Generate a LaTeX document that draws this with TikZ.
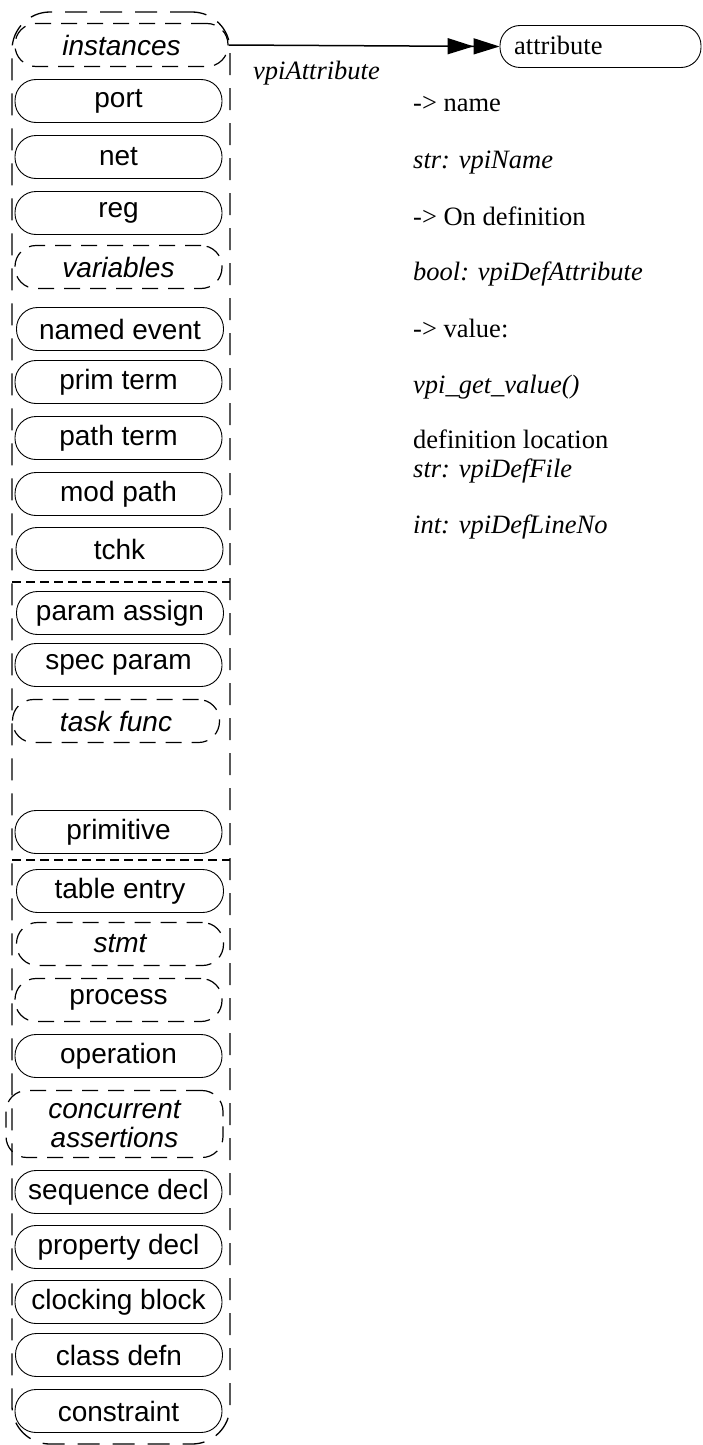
\documentclass[tikz,border=0pt]{standalone}
\usepackage{fontspec}
\setmainfont{Liberation Serif}
\newfontfamily\sansf{Liberation Sans}
\usetikzlibrary{arrows.meta}
\tikzset{
  box/.style={draw, line width=0.9pt, rounded corners=21pt, minimum width=207pt,
    minimum height=43pt, inner sep=0pt, font=\sansf\fontsize{28}{30}\selectfont},
  dbox/.style={box, line width=1.2pt, dash pattern=on 16pt off 10pt,
    font=\sansf\itshape\fontsize{28}{30}\selectfont},
  pbox/.style={box, line width=1.2pt, dash pattern=on 16pt off 10pt},
  group/.style={draw, line width=1.3pt, dash pattern=on 22pt off 13pt, rounded corners=38pt,
    minimum width=218pt, minimum height=1432pt, inner sep=0pt},
  sep/.style={line width=1.2pt, dash pattern=on 9pt off 5pt},
  txt/.style={anchor=base west, inner sep=0pt, font=\fontsize{26.5}{28}\selectfont},
  itxt/.style={txt, font=\itshape\fontsize{26.5}{28}\selectfont},
  conn/.style={line width=1.5pt, -{Triangle[length=26pt,width=16pt]Triangle[length=26pt,width=16pt]}},
}
\begin{document}
\begin{tikzpicture}[x=1pt,y=-1pt]
\useasboundingbox (0,0) rectangle (702,1445);
\node[group] (grp) at (121,728) {};
\coordinate (s1l) at (12,582); \coordinate (s1r) at (230,582);
\coordinate (s2l) at (12,860); \coordinate (s2r) at (230,860);
\draw[sep] (s1l) -- (s1r);
\draw[sep] (s2l) -- (s2r);

\node[dbox, minimum width=213pt] (instances) at (121.5,45) {instances};
\node[box] (port) at (118.5,101) {port};
\node[box] (net) at (118.5,157) {net};
\node[box] (reg) at (118.5,213) {reg};
\node[dbox] (variables) at (118.5,267) {variables};
\node[box] (namedevent) at (120,329) {named event};
\node[box] (primterm) at (118.5,382) {prim term};
\node[box] (pathterm) at (118.5,438) {path term};
\node[box] (modpath) at (118.5,494) {mod path};
\node[box] (tchk) at (119.5,549) {tchk};
\node[box] (paramassign) at (120,613) {param assign};
\node[box] (specparam) at (118.5,665) {spec param};
\node[dbox] (taskfunc) at (116,721) {task func};
\node[box] (primitive) at (118.5,832) {primitive};
\node[box] (tableentry) at (120,891) {table entry};
\node[dbox] (stmt) at (120,944) {stmt};
\node[pbox] (process) at (118.5,1000) {process};
\node[box] (operation) at (118.5,1056) {operation};
\node[dbox, minimum width=217pt, minimum height=67pt, align=center,
  font=\sansf\itshape\fontsize{28}{29}\selectfont] (concurrent) at (114.5,1124) {concurrent\\assertions};
\node[box] (sequencedecl) at (118.5,1192) {sequence decl};
\node[box] (propertydecl) at (118.5,1247) {property decl};
\node[box] (clockingblock) at (118.5,1302) {clocking block};
\node[box] (classdefn) at (119,1355) {class defn};
\node[box] (constraint) at (118.5,1411) {constraint};

\node[draw, line width=0.9pt, rounded corners=20pt, minimum width=201pt, minimum height=42pt,
  inner sep=0pt] (attribute) at (600.5,46.5) {};
\node[txt] (attrtext) at (514,55) {attribute};

\draw[conn] (instances.east) -- (attribute.west);
\node[itxt] (vpiattr) at (253,80) {vpiAttribute};

\node[txt] (t1) at (413,111) {-> name};
\node[itxt] (t2) at (413,168) {str: vpiName};
\node[txt] (t3) at (413,225) {-> On definition};
\node[itxt] (t4) at (413,280) {bool: vpiDefAttribute};
\node[txt] (t5) at (413,337) {-> value:};
\node[itxt] (t6) at (413,393) {vpi\_get\_value()};
\node[txt] (t7) at (413,448) {definition location};
\node[itxt] (t8) at (413,477) {str: vpiDefFile};
\node[itxt] (t9) at (413,533) {int: vpiDefLineNo};
\end{tikzpicture}
\end{document}
